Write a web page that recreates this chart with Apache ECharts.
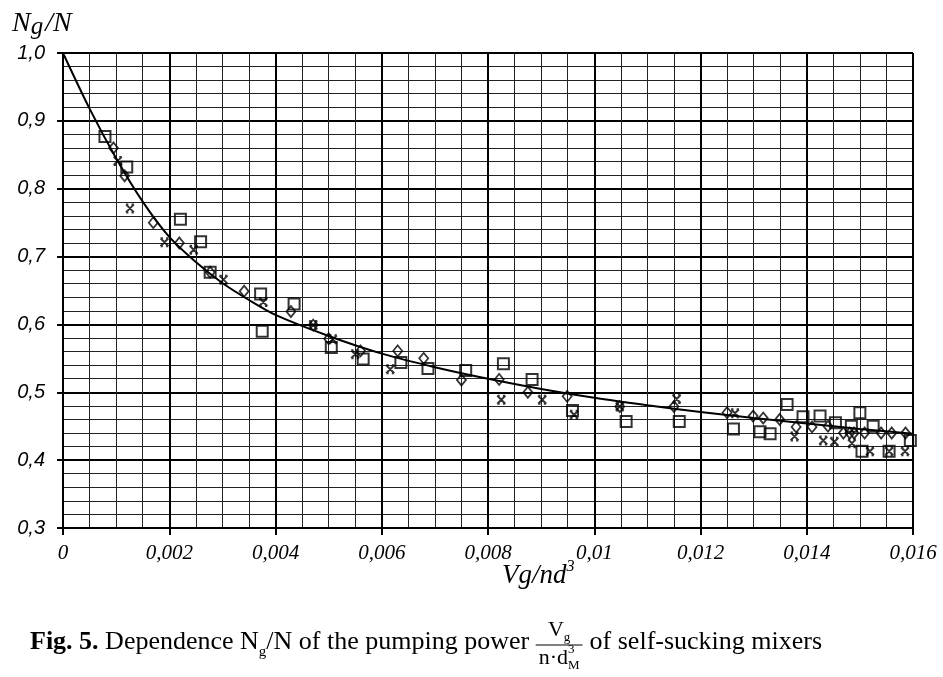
<!DOCTYPE html>
<html>
<head>
<meta charset="utf-8">
<title>Ng/N vs Vg/nd3</title>
<script src="https://cdn.jsdelivr.net/npm/echarts@6/dist/echarts.min.js"></script>
<style>
    html, body { margin: 0; padding: 0; background: #fff; }
    #chart { width: 943px; height: 677px; }
</style>
</head>
<body>
<div id="chart"></div>
<script>
// tick labels (decimal comma, as in the figure)
var xTickLabels = ['0', '0,002', '0,004', '0,006', '0,008', '0,01', '0,012', '0,014', '0,016'];
var yTickLabels = ['0,3', '0,4', '0,5', '0,6', '0,7', '0,8', '0,9', '1,0'];

// fitted curve
var curveX = [0, 0.0005, 0.001, 0.0015, 0.002, 0.0025, 0.003, 0.0035, 0.004, 0.005, 0.006, 0.007, 0.008, 0.009, 0.01, 0.011, 0.012, 0.013, 0.014, 0.015, 0.016];
var curveY = [1.0, 0.918, 0.845, 0.781, 0.729, 0.692, 0.661, 0.636, 0.614, 0.583, 0.557, 0.537, 0.52, 0.505, 0.492, 0.481, 0.471, 0.462, 0.454, 0.446, 0.439];

// squares
var squareX = [0.00079, 0.0012, 0.00221, 0.00259, 0.00277, 0.00372, 0.00375, 0.00435, 0.00505, 0.00565, 0.00636, 0.00687, 0.00758, 0.00829, 0.00883, 0.00959, 0.0106, 0.0116, 0.01262, 0.01312, 0.01331, 0.01363, 0.01393, 0.01425, 0.01454, 0.01484, 0.0150, 0.01504, 0.01525, 0.01555, 0.01595];
var squareY = [0.877, 0.832, 0.755, 0.722, 0.677, 0.645, 0.590, 0.630, 0.566, 0.549, 0.544, 0.535, 0.532, 0.542, 0.519, 0.473, 0.457, 0.457, 0.446, 0.442, 0.439, 0.482, 0.464, 0.465, 0.455, 0.450, 0.470, 0.413, 0.450, 0.413, 0.429];

// diamonds
var diamondX = [0.00095, 0.00116, 0.0017, 0.00219, 0.00277, 0.00341, 0.00429, 0.00471, 0.005, 0.0056, 0.0063, 0.00679, 0.0075, 0.00821, 0.00875, 0.00949, 0.01048, 0.0115, 0.0125, 0.01299, 0.01318, 0.01349, 0.0138, 0.0141, 0.0144, 0.01469, 0.01481, 0.01489, 0.01509, 0.0154, 0.0156, 0.01586];
var diamondY = [0.86, 0.819, 0.75, 0.72, 0.677, 0.649, 0.619, 0.599, 0.579, 0.561, 0.561, 0.55, 0.518, 0.519, 0.5, 0.494, 0.479, 0.479, 0.47, 0.465, 0.462, 0.46, 0.449, 0.449, 0.45, 0.44, 0.44, 0.44, 0.44, 0.44, 0.44, 0.44];

// crosses
var crossX = [0.00103, 0.00126, 0.00191, 0.00246, 0.00302, 0.00377, 0.00471, 0.00508, 0.0055, 0.00616, 0.00825, 0.00902, 0.00962, 0.01048, 0.01155, 0.01265, 0.01377, 0.01431, 0.01452, 0.01485, 0.01519, 0.01555, 0.01585];
var crossY = [0.841, 0.771, 0.721, 0.71, 0.666, 0.633, 0.599, 0.578, 0.556, 0.534, 0.489, 0.489, 0.467, 0.479, 0.49, 0.469, 0.435, 0.429, 0.427, 0.425, 0.413, 0.413, 0.413];

function pairs(xs, ys) {
    return xs.map(function (x, i) { return [x, ys[i]]; });
}

// text runs laid out left to right (subscripts / superscripts via dy)
var measureCtx = document.createElement('canvas').getContext('2d');
function fontOf(p) {
    return (p.italic ? 'italic ' : '') + (p.bold ? 'bold ' : '') + p.size + 'px "' + (p.family || 'Liberation Serif') + '"';
}
function textWidth(p) {
    measureCtx.font = fontOf(p);
    return measureCtx.measureText(p.text).width;
}
function textRun(x, baseline, parts, out) {
    parts.forEach(function (p) {
        x += p.gap || 0;
        out.push({
            type: 'text',
            x: x,
            y: baseline + (p.dy || 0) - 0.305 * p.size,
            style: { text: p.text, font: fontOf(p), fill: '#000', verticalAlign: 'middle', align: 'left' }
        });
        x += textWidth(p);
    });
    return x;
}

var graphics = [];

// y axis name  N_g/N
textRun(12, 32, [
    { text: 'N', size: 28, italic: true },
    { text: 'g', size: 25, italic: true, dy: 3 },
    { text: '/N', size: 28, italic: true, gap: 2 }
], graphics);

// x axis name  Vg/nd^3
textRun(502, 584, [
    { text: 'V', size: 27, italic: true },
    { text: 'g', size: 27, italic: true },
    { text: '/nd', size: 27, italic: true },
    { text: '3', size: 16, italic: true, dy: -12 }
], graphics);

// caption
var capBase = 650;
var cx = textRun(30, capBase, [
    { text: 'Fig. 5.', size: 26, bold: true },
    { text: ' Dependence N', size: 26 },
    { text: 'g', size: 15, dy: 7 },
    { text: '/N of the pumping power ', size: 26 }
], graphics);

// fraction  Vg / (n·d_M^3)
var barY = capBase - 5;
var numW = textWidth({ text: 'V', size: 22 }) + textWidth({ text: 'g', size: 13 });
var denW = textWidth({ text: 'n·d', size: 22 }) + textWidth({ text: 'M', size: 13 });
var fracW = Math.max(numW, denW) + 6;
textRun(cx + (fracW - numW) / 2, barY - 8, [
    { text: 'V', size: 22 },
    { text: 'g', size: 13, dy: 5 }
], graphics);
var dx = textRun(cx + (fracW - denW) / 2, barY + 20, [
    { text: 'n·d', size: 22 }
], graphics);
textRun(dx, barY + 20, [{ text: '3', size: 13, dy: -11 }], graphics);
textRun(dx, barY + 20, [{ text: 'M', size: 13, dy: 5 }], graphics);
graphics.push({
    type: 'line',
    shape: { x1: cx, y1: barY, x2: cx + fracW, y2: barY },
    style: { stroke: '#000', lineWidth: 1 }
});
textRun(cx + fracW + 7, capBase, [
    { text: 'of self-sucking mixers', size: 26 }
], graphics);

var myChart = echarts.init(document.getElementById('chart'));
myChart.setOption({
    animation: false,
    backgroundColor: '#fff',
    grid: { left: 63, right: 30, top: 53, bottom: 149 },
    xAxis: {
        type: 'value',
        min: 0,
        max: 0.016,
        interval: 0.002,
        axisLine: { show: true, onZero: false, lineStyle: { color: '#000', width: 2 } },
        axisTick: { show: true, length: 7, lineStyle: { color: '#000', width: 2 } },
        axisLabel: {
            margin: 15,
            color: '#000',
            fontFamily: 'Liberation Serif',
            fontStyle: 'italic',
            fontSize: 21,
            formatter: function (v) { return xTickLabels[Math.round(v / 0.002)]; }
        },
        splitLine: { show: true, lineStyle: { color: '#000', width: 2 } },
        minorTick: { show: false, splitNumber: 4 },
        minorSplitLine: { show: true, lineStyle: { color: '#222', width: 1 } }
    },
    yAxis: {
        type: 'value',
        min: 0.3,
        max: 1.0,
        interval: 0.1,
        axisLine: { show: true, onZero: false, lineStyle: { color: '#000', width: 2 } },
        axisTick: { show: true, length: 6, lineStyle: { color: '#000', width: 2 } },
        axisLabel: {
            margin: 18,
            color: '#000',
            fontFamily: 'Liberation Sans',
            fontStyle: 'italic',
            fontSize: 20,
            formatter: function (v) { return yTickLabels[Math.round((v - 0.3) / 0.1)]; }
        },
        splitLine: { show: true, lineStyle: { color: '#000', width: 2 } },
        minorTick: { show: false, splitNumber: 5 },
        minorSplitLine: { show: true, lineStyle: { color: '#222', width: 1 } }
    },
    series: [
        {
            type: 'line',
            data: pairs(curveX, curveY),
            smooth: 0.3,
            symbol: 'none',
            silent: true,
            lineStyle: { color: '#000', width: 2 },
            z: 3
        },
        {
            type: 'scatter',
            data: pairs(squareX, squareY),
            symbol: 'rect',
            symbolSize: 11,
            silent: true,
            itemStyle: { color: 'rgba(0,0,0,0)', borderColor: '#000', borderWidth: 2 },
            z: 4
        },
        {
            type: 'scatter',
            data: pairs(diamondX, diamondY),
            symbol: 'diamond',
            symbolSize: [9, 11],
            silent: true,
            itemStyle: { color: 'rgba(0,0,0,0)', borderColor: '#000', borderWidth: 1.8 },
            z: 4
        },
        {
            type: 'scatter',
            data: pairs(crossX, crossY),
            symbol: 'path://M0,0L10,10M10,0L0,10M0,0H3M7,0H10M0,10H3M7,10H10',
            symbolSize: 8,
            silent: true,
            itemStyle: { color: 'rgba(0,0,0,0)', borderColor: '#000', borderWidth: 2 },
            z: 4
        }
    ],
    graphic: graphics
});
</script>
</body>
</html>
